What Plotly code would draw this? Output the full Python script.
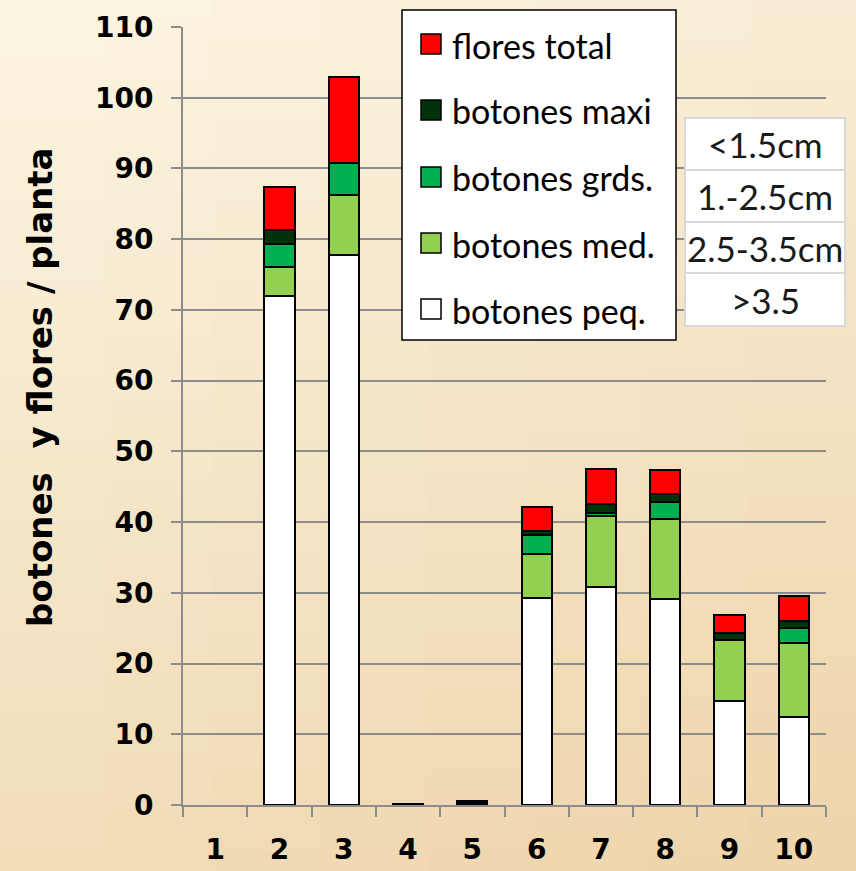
import plotly.graph_objects as go

# Plant numbers on the x axis
plants = ["1", "2", "3", "4", "5", "6", "7", "8", "9", "10"]

# Buds and flowers per plant, by size class (stacked bottom to top)
botones_peq = [0, 72.0, 77.8, 0.1, 0.3, 29.2, 30.8, 29.1, 14.7, 12.4]
botones_med = [0, 4.1, 8.4, 0, 0.2, 6.3, 10.0, 11.4, 8.6, 10.5]
botones_grds = [0, 3.2, 4.6, 0, 0, 2.7, 0.5, 2.3, 0, 2.1]
botones_maxi = [0, 2.0, 0, 0, 0, 0.6, 1.3, 1.2, 1.0, 1.0]
flores_total = [0, 6.1, 12.2, 0, 0, 3.3, 4.9, 3.3, 2.6, 3.5]

series_names = ["botones peq.", "botones med.", "botones grds.", "botones maxi", "flores total"]
series_values = [botones_peq, botones_med, botones_grds, botones_maxi, flores_total]
series_colors = ["#ffffff", "#92d050", "#00b050", "#00330a", "#ff0000"]

size_classes = ["<1.5cm", "1.-2.5cm", "2.5-3.5cm", ">3.5"]

y_ticks = list(range(0, 111, 10))

W, H = 856, 871
L, R, T, B = 183, 30, 27, 66
PX0, PX1 = L, W - R
PY_TOP, PY_BOT = T, H - B


def px(x):
    return (x - PX0) / (PX1 - PX0)


def py(y):
    return (PY_BOT - y) / (PY_BOT - PY_TOP)


fig = go.Figure()
for name, vals, col in zip(series_names, series_values, series_colors):
    # empty segments get no outline so they leave no stray line on the axis
    line_w = [2 if v > 0 else 0 for v in vals]
    fig.add_trace(go.Bar(
        x=plants, y=vals, name=name, width=0.47,
        marker=dict(color=col, line=dict(color="#000000", width=line_w)),
        showlegend=False,
    ))

shapes = []
annotations = []

# warm paper background, light at the top-left and deeper tan towards the bottom-right
def mix(c0, c1, t):
    t = max(0.0, min(1.0, t))
    return "rgb(%d,%d,%d)" % tuple(round(a + (b - a) * t) for a, b in zip(c0, c1))

top_col = (251, 244, 224)
bot_col = (238, 213, 172)
ncols, nrows = 8, 44
for i in range(ncols):
    for j in range(nrows):
        x0 = W * i / ncols
        x1 = W * (i + 1) / ncols
        y0 = H * j / nrows
        y1 = H * (j + 1) / nrows
        t = 0.8 * ((y0 + y1) / 2 / H) + 0.3 * ((x0 + x1) / 2 / W) - 0.05
        shapes.append(dict(
            type="rect", xref="paper", yref="paper", layer="below",
            x0=px(x0 - 1), x1=px(x1 + 1), y0=py(y1 + 1), y1=py(y0 - 1),
            fillcolor=mix(top_col, bot_col, t), line=dict(width=0),
        ))

# legend box
leg_x0, leg_x1, leg_y0, leg_y1 = 402, 676, 10, 340
shapes.append(dict(type="rect", xref="paper", yref="paper", layer="above",
                   x0=px(leg_x0), x1=px(leg_x1), y0=py(leg_y1), y1=py(leg_y0),
                   fillcolor="#ffffff", line=dict(color="#000000", width=1.5)))
legend_rows = [44, 110, 177, 243, 309]
for name, col, yc in zip(series_names[::-1], series_colors[::-1], legend_rows):
    shapes.append(dict(type="rect", xref="paper", yref="paper", layer="above",
                       x0=px(421), x1=px(441), y0=py(yc + 10), y1=py(yc - 10),
                       fillcolor=col, line=dict(color="#000000", width=1.5)))
    annotations.append(dict(text=name, xref="paper", yref="paper",
                            x=px(450), y=py(yc + 1), xanchor="left", yanchor="middle",
                            showarrow=False, font=dict(family="Lato", size=34, color="#000000")))

# size-class table at the right
tab_x0, tab_x1 = 685, 845
row_edges = [118, 170, 222, 273, 326]
for k, label in enumerate(size_classes):
    r0, r1 = row_edges[k], row_edges[k + 1]
    shapes.append(dict(type="rect", xref="paper", yref="paper", layer="above",
                       x0=px(tab_x0), x1=px(tab_x1), y0=py(r1), y1=py(r0),
                       fillcolor="#ffffff", line=dict(color="#d9d9d9", width=2)))
    annotations.append(dict(text=label, xref="paper", yref="paper",
                            x=px((tab_x0 + tab_x1) / 2), y=py((r0 + r1) / 2),
                            xanchor="center", yanchor="middle", showarrow=False,
                            font=dict(family="Lato", size=35, color="#1a1a1a")))

# y-axis title
annotations.append(dict(text="<b>botones  y flores / planta</b>", xref="paper", yref="paper",
                        x=px(40), y=py(387), xanchor="center", yanchor="middle",
                        textangle=-90, showarrow=False,
                        font=dict(family="DejaVu Sans", size=34, color="#000000")))

axis_gray = "#8c8c8c"
tick_font = dict(family="DejaVu Sans", size=28, color="#000000", weight="bold")

fig.update_layout(
    width=W, height=H,
    margin=dict(l=L, r=R, t=T, b=B, pad=0, autoexpand=False),
    barmode="stack",
    paper_bgcolor="#f4e6c8",
    plot_bgcolor="rgba(0,0,0,0)",
    shapes=shapes,
    annotations=annotations,
    showlegend=False,
    xaxis=dict(
        type="category", categoryorder="array", categoryarray=plants,
        range=[-0.5, len(plants) - 0.5], automargin=False,
        showline=True, linecolor=axis_gray, linewidth=2,
        ticks="outside", ticklen=10, tickwidth=2, tickcolor=axis_gray,
        tickson="boundaries", showgrid=False,
        tickfont=tick_font, ticklabelstandoff=18,
    ),
    yaxis=dict(
        range=[0, 110], tickvals=y_ticks, automargin=False,
        showline=True, linecolor=axis_gray, linewidth=2,
        ticks="outside", ticklen=10, tickwidth=2, tickcolor=axis_gray,
        showgrid=True, gridcolor=axis_gray, gridwidth=2,
        zeroline=False,
        tickfont=tick_font, ticklabelstandoff=12,
    ),
)

fig.write_html("out.html")
